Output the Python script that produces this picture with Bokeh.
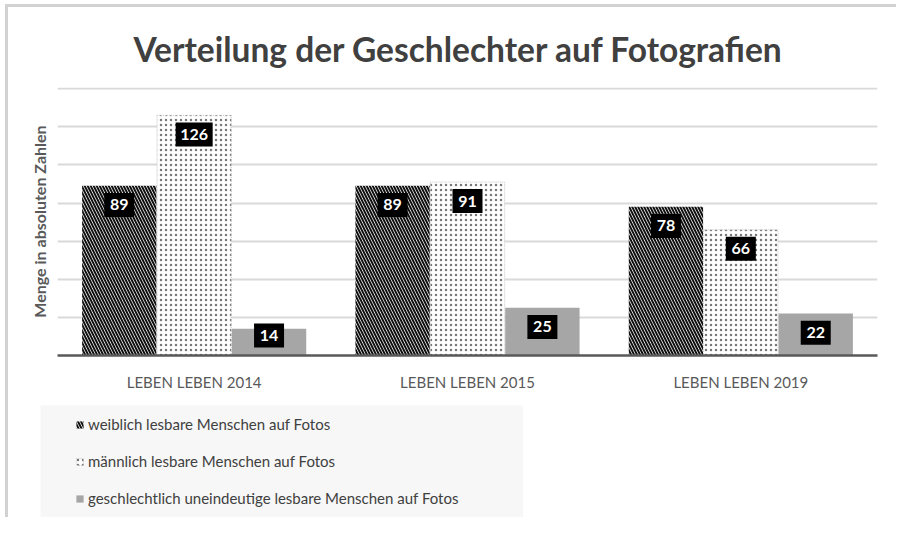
from bokeh.plotting import figure
from bokeh.layouts import column, row
from bokeh.models import (FactorRange, Range1d, FixedTicker, ColumnDataSource,
                          Legend, LegendItem, Spacer)
from bokeh.core.properties import value
from bokeh.transform import dodge
from bokeh.embed import file_html
from bokeh.resources import INLINE

# ---- data ----
categories = ["LEBEN LEBEN 2014", "LEBEN LEBEN 2015", "LEBEN LEBEN 2019"]
series_names = ["weiblich lesbare Menschen auf Fotos",
                "männlich lesbare Menschen auf Fotos",
                "geschlechtlich uneindeutige lesbare Menschen auf Fotos"]
weiblich = [89, 89, 78]
maennlich = [126, 91, 66]
uneindeutig = [14, 25, 22]
y_ticks = [0, 20, 40, 60, 80, 100, 120, 140]

title_text = "Verteilung der Geschlechter auf Fotografien"
y_label = "Menge in absoluten Zahlen"

FONT = "Lato"
OX, OY = 8, 7

# styles of the three series
STY = [dict(fill_color="white", line_color=None,
            hatch_pattern="left_diagonal_line", hatch_color="#111111",
            hatch_scale=6, hatch_weight=2),
       dict(fill_color="white", line_color="#c8c8c8", line_dash="1 1", line_width=1,
            hatch_pattern="dot", hatch_color="#777777",
            hatch_scale=5, hatch_weight=1.3),
       dict(fill_color="#a6a6a6", line_color=None)]

p = figure(x_range=FactorRange(factors=categories, range_padding=0),
           y_range=Range1d(0, 140.6),
           width=888, height=395 - OY, output_backend="svg", toolbar_location=None,
           min_border_left=57 - OX, min_border_right=888 + OX - 877,
           min_border_top=87 - OY, min_border_bottom=395 - 355)

p.title.text = title_text
p.title.text_font = FONT
p.title.text_font_style = "bold"
p.title.text_font_size = "33.5px"
p.title.text_color = "#404040"
p.title.align = "left"
p.title.offset = 133 - 57
p.title.standoff = 38

def label_y(vals):
    return [max(v - 10, 10.5) for v in vals]

def box_w(vals):
    return [16 + 7 * len(str(v)) for v in vals]

src = ColumnDataSource(dict(
    cat=categories, w=weiblich, m=maennlich, u=uneindeutig,
    w_ly=label_y(weiblich), m_ly=label_y(maennlich), u_ly=label_y(uneindeutig),
    w_bw=box_w(weiblich), m_bw=box_w(maennlich), u_bw=box_w(uneindeutig),
    w_t=[str(v) for v in weiblich], m_t=[str(v) for v in maennlich],
    u_t=[str(v) for v in uneindeutig]))

BW = 0.272
OFF = 0.274
for off, top, sty in [(-OFF, "w", STY[0]), (0, "m", STY[1]), (OFF, "u", STY[2])]:
    p.vbar(x=dodge("cat", off, range=p.x_range), top=top, width=BW, source=src, **sty)

for off, yf, tf, bf in [(-OFF, "w_ly", "w_t", "w_bw"), (0, "m_ly", "m_t", "m_bw"),
                        (OFF, "u_ly", "u_t", "u_bw")]:
    xs = dodge("cat", off, range=p.x_range)
    p.rect(x=xs, y=yf, width=bf, height=24, width_units="screen",
           height_units="screen", source=src, fill_color="black", line_color=None)
    p.text(x=xs, y=yf, text=tf, source=src, text_align="center",
           text_baseline="middle", text_color="white", text_font=value(FONT),
           text_font_style="bold", text_font_size="16px")

# axes
p.xaxis.axis_line_color = "#595959"
p.xaxis.axis_line_width = 2.5
p.xaxis.major_tick_line_color = None
p.xaxis.minor_tick_line_color = None
p.xaxis.major_label_text_font = FONT
p.xaxis.major_label_text_font_size = "15px"
p.xaxis.major_label_text_color = "#595959"
p.xaxis.major_label_standoff = 11

p.yaxis.ticker = FixedTicker(ticks=y_ticks)
p.yaxis.major_label_overrides = {t: "" for t in y_ticks}
p.yaxis.axis_line_color = None
p.yaxis.major_tick_line_color = None
p.yaxis.minor_tick_line_color = None
p.yaxis.major_label_standoff = 0
p.yaxis.axis_label = y_label
p.yaxis.axis_label_text_font = FONT
p.yaxis.axis_label_text_font_style = "bold"
p.yaxis.axis_label_text_font_size = "16px"
p.yaxis.axis_label_text_color = "#595959"
p.yaxis.axis_label_standoff = 3

p.ygrid.ticker = FixedTicker(ticks=y_ticks)
p.ygrid.grid_line_color = "#d9d9d9"
p.ygrid.grid_line_width = 2
p.xgrid.grid_line_color = None
p.outline_line_color = None

# ---- legend panel ----
LEG_BG = "#f7f7f7"
pl = figure(width=483, height=112, x_range=Range1d(0, 1), y_range=Range1d(0, 1),
            x_axis_type=None, y_axis_type=None, output_backend="svg",
            toolbar_location=None, min_border=0)
pl.grid.visible = False
pl.outline_line_color = None
pl.background_fill_color = LEG_BG
pl.border_fill_color = LEG_BG
# legend keys: one bar each, placed outside the visible range
key_src = ColumnDataSource(dict(x=[-10.0], top=[0.0]))
keys = [pl.vbar(x="x", top="top", width=0.1, source=key_src, **s) for s in STY]

legend = Legend(items=[LegendItem(label=n, renderers=[r]) for n, r in zip(series_names, keys)],
                location=(35, 10), margin=0, padding=10,
                spacing=19, glyph_width=9, glyph_height=9, label_height=18,
                label_standoff=4, background_fill_alpha=0, border_line_color=None,
                label_text_font=FONT, label_text_font_size="15px",
                label_text_color="#404040")
pl.add_layout(legend, "center")

layout = column(p, Spacer(height=10), row(Spacer(width=32), pl))
layout.styles = {"border-left": "3px solid #d2d2d2", "border-top": "3px solid #d2d2d2",
                 "margin-left": "5px", "margin-top": "4px"}

open("out.html", "w").write(file_html(layout, INLINE))
